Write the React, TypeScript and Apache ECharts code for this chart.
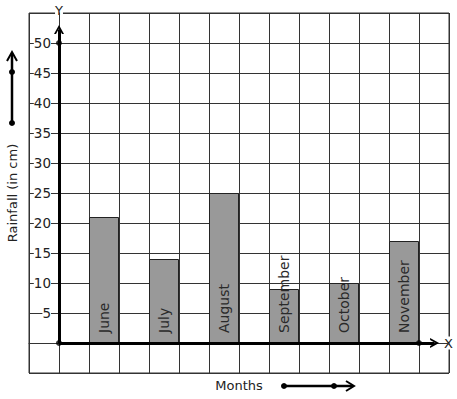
import React, { useEffect, useRef } from "react";
import * as echarts from "echarts";

const months = ["June", "July", "August", "September", "October", "November"];
const rainfall = [21, 14, 25, 9, 10, 17];
const axisDots = [
  [0, 0],
  [0, 50],
  [12, 0],
];

const FONT = "DejaVu Sans";
const INK = "#222";
const GRID = "#333";
const CHEVRON = "path://M0,10L5,0L10,10L8,10L5,4L2,10Z";

export default function App() {
  const ref = useRef<HTMLDivElement>(null);
  useEffect(() => {
    document.body.style.margin = "0";
    const chart = echarts.init(ref.current!, null, { renderer: "svg" });
    const barData = rainfall.map((v, i) => [2 * i + 1.5, v]);
    chart.setOption({
      animation: false,
      textStyle: { fontFamily: FONT },
      grid: {
        left: 29,
        top: 13,
        width: 420,
        height: 360,
        show: true,
        borderColor: GRID,
        borderWidth: 1,
        backgroundColor: "#fff",
        containLabel: false,
        outerBoundsMode: "none",
      },
      xAxis: {
        type: "value",
        min: -1,
        max: 13,
        interval: 1,
        name: "X",
        nameLocation: "end",
        nameGap: -5,
        nameTextStyle: { fontSize: 13, color: INK, backgroundColor: "#fff", verticalAlign: "middle", fontFamily: FONT },
        axisLine: { show: true, onZero: true, lineStyle: { color: GRID, width: 1 } },
        axisTick: { show: false },
        axisLabel: { show: false },
        splitLine: { show: true, lineStyle: { color: GRID, width: 1 } },
      },
      yAxis: {
        type: "value",
        min: -5,
        max: 55,
        interval: 5,
        position: "left",
        offset: -30,
        name: "Y",
        nameLocation: "end",
        nameGap: 3,
        nameTextStyle: { fontSize: 13, color: INK, backgroundColor: "#fff", align: "center", verticalAlign: "middle", fontFamily: FONT },
        axisLine: { show: true, onZero: false, lineStyle: { color: GRID, width: 1 } },
        axisTick: { show: false },
        axisLabel: {
          margin: 8,
          fontSize: 13.5,
          color: INK,
          fontFamily: FONT,
          backgroundColor: "#fff",
          showMinLabel: false,
          showMaxLabel: false,
          formatter: (v: number) => (v >= 5 && v <= 50 ? String(v) : ""),
        },
        splitLine: { show: true, lineStyle: { color: GRID, width: 1 } },
      },
      series: [
        {
          type: "bar",
          data: barData,
          barWidth: 30,
          itemStyle: { color: "#999999", borderColor: "#222", borderWidth: 1 },
          label: {
            show: true,
            position: "insideBottom",
            rotate: 90,
            align: "left",
            verticalAlign: "middle",
            distance: 10,
            fontSize: 14,
            fontFamily: FONT,
            color: "#2a2a2a",
            formatter: (p: any) => months[p.dataIndex],
          },
        },
        {
          type: "scatter",
          data: axisDots,
          symbol: "circle",
          symbolSize: 6,
          itemStyle: { color: "#000" },
          z: 5,
          markLine: {
            silent: true,
            symbol: ["none", CHEVRON],
            symbolSize: [10, 9],
            label: { show: false },
            lineStyle: { color: "#000", width: 3, type: "solid" },
            data: [
              [{ coord: [0, 0] }, { coord: [0, 52.25] }],
              [{ coord: [0, 0] }, { coord: [12.52, 0] }],
            ],
          },
        },
      ],
      graphic: [
        {
          type: "text",
          x: 12,
          y: 193,
          rotation: Math.PI / 2,
          style: { text: "Rainfall (in cm)", fontSize: 13, fontFamily: FONT, fill: INK, align: "center", verticalAlign: "middle" },
        },
        {
          type: "text",
          x: 239,
          y: 385,
          style: { text: "Months", fontSize: 13, fontFamily: FONT, fill: INK, align: "center", verticalAlign: "middle" },
        },
        { type: "line", shape: { x1: 12, y1: 123, x2: 12, y2: 54 }, style: { stroke: "#000", lineWidth: 2.5 } },
        { type: "circle", shape: { cx: 12, cy: 123, r: 3 }, style: { fill: "#000" } },
        { type: "circle", shape: { cx: 12, cy: 72, r: 3 }, style: { fill: "#000" } },
        { type: "polyline", shape: { points: [[7, 61], [12, 52], [17, 61]] }, style: { stroke: "#000", lineWidth: 2, fill: null } },
        { type: "line", shape: { x1: 284, y1: 386, x2: 353, y2: 386 }, style: { stroke: "#000", lineWidth: 2.5 } },
        { type: "circle", shape: { cx: 284, cy: 386, r: 3 }, style: { fill: "#000" } },
        { type: "circle", shape: { cx: 334, cy: 386, r: 3 }, style: { fill: "#000" } },
        { type: "polyline", shape: { points: [[346, 381], [354, 386], [346, 391]] }, style: { stroke: "#000", lineWidth: 2, fill: null } },
      ],
    });
    return () => chart.dispose();
  }, []);
  return <div ref={ref} style={{ width: 457, height: 399 }} />;
}
